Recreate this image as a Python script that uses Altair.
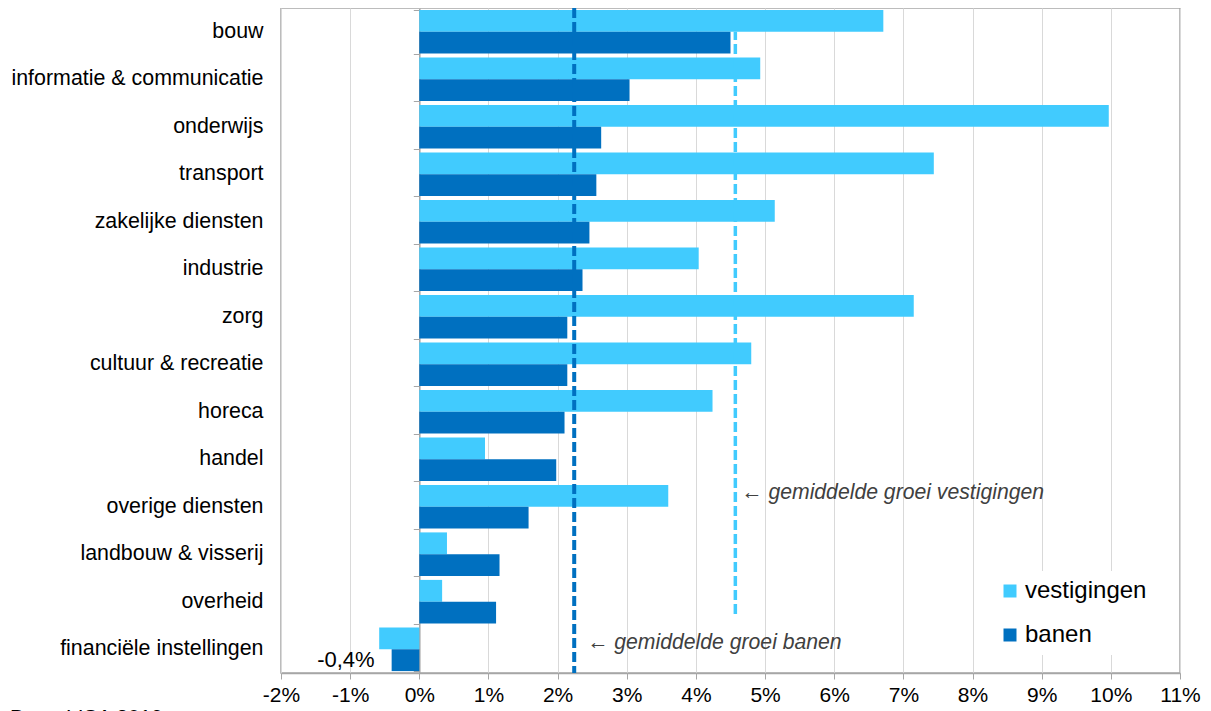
import altair as alt
import pandas as pd

categories = ["bouw", "informatie & communicatie", "onderwijs", "transport",
              "zakelijke diensten", "industrie", "zorg", "cultuur & recreatie",
              "horeca", "handel", "overige diensten", "landbouw & visserij",
              "overheid", "financiële instellingen"]
vestigingen = [6.71, 4.93, 9.97, 7.44, 5.14, 4.04, 7.15, 4.80, 4.24, 0.95, 3.60, 0.40, 0.33, -0.58]
banen = [4.50, 3.04, 2.63, 2.56, 2.46, 2.36, 2.14, 2.14, 2.10, 1.98, 1.58, 1.16, 1.11, -0.40]
series = ["vestigingen", "banen"]
colors = ["#41CBFE", "#0070C0"]
avg_values = [4.57, 2.24]
avg_labels = ["← gemiddelde groei vestigingen", "← gemiddelde groei banen"]
avg_label_cats = ["overige diensten", "financiële instellingen"]
tick_values = list(range(-2, 12))
x_domain = [-2, 11]
source_text = "Bron: LISA 2019"

FONT = "Liberation Sans"
W, H = 899, 665
zero_offset = W * (0 - x_domain[0]) / (x_domain[1] - x_domain[0])

df = pd.DataFrame({
    "categorie": categories * 2,
    "reeks": ["vestigingen"] * len(categories) + ["banen"] * len(categories),
    "groei": vestigingen + banen,
})
lbl_df = df[(df["categorie"] == "financiële instellingen") & (df["reeks"] == "banen")].copy()
lbl_df["tekst"] = lbl_df["groei"].map(lambda v: f"{v:.1f}".replace(".", ",") + "%")


def ysc():
    return alt.Scale(domain=categories, paddingInner=0.08, paddingOuter=0.04)


def yosc():
    return alt.Scale(domain=series, paddingInner=0, paddingOuter=0)


xsc = alt.Scale(domain=x_domain, nice=False, zero=False)

bars = alt.Chart(df).mark_bar().encode(
    y=alt.Y("categorie:N", scale=ysc(), title=None,
            axis=alt.Axis(orient="left", ticks=False, domain=False, labelFontSize=21.4,
                          labelFont=FONT, labelColor="#000000", labelPadding=18,
                          labelLimit=400)),
    yOffset=alt.YOffset("reeks:N", scale=yosc()),
    x=alt.X("groei:Q", scale=xsc, title=None,
            axis=alt.Axis(values=tick_values, labelExpr="datum.value + '%'",
                          labelFlush=False, labelOverlap=False,
                          grid=True, gridColor="#D9D9D9", gridWidth=1,
                          tickColor="#A6A6A6", tickSize=6, domainColor="#A6A6A6",
                          domainWidth=1.5, labelFontSize=21, labelFont=FONT,
                          labelColor="#000000", labelPadding=5)),
    color=alt.Color("reeks:N",
                    scale=alt.Scale(domain=series, range=colors),
                    legend=alt.Legend(title=None, orient="none", legendX=709, legendY=563,
                                      symbolType="square", symbolSize=169,
                                      symbolStrokeWidth=0, labelFontSize=24,
                                      labelFont=FONT, labelColor="#000000",
                                      rowPadding=20, labelOffset=3, padding=8,
                                      fillColor="white")),
)

vest_avg_df = pd.DataFrame({"reeks": [series[0]], "waarde": [avg_values[0]],
                            "start": [categories[0]], "eind": ["overheid"]})
banen_avg_df = pd.DataFrame({"reeks": [series[1]], "waarde": [avg_values[1]]})

vest_rule = alt.Chart(vest_avg_df).mark_rule(
    color=colors[0], strokeWidth=3.5, strokeDash=[10, 4]).encode(
    x=alt.X("waarde:Q", scale=xsc),
    y=alt.Y("eind:N", scale=ysc(), bandPosition=0.78, axis=None),
    y2=alt.Y2("start:N"),
)
banen_rule = alt.Chart(banen_avg_df).mark_rule(
    color=colors[1], strokeWidth=4, strokeDash=[10, 4]).encode(
    x=alt.X("waarde:Q", scale=xsc),
)

ann_df = pd.DataFrame({"tekst": avg_labels, "waarde": avg_values,
                       "categorie": avg_label_cats, "reeks": ["vestigingen", "vestigingen"]})
ann_layers = []
for i, (dx, dy) in enumerate([(6, -3), (13, 5)]):
    ann_layers.append(
        alt.Chart(ann_df.iloc[[i]]).mark_text(
            align="left", baseline="middle", dx=dx, dy=dy, fontSize=21.2, font=FONT,
            fontStyle="italic", color="#404040").encode(
            x=alt.X("waarde:Q", scale=xsc),
            y=alt.Y("categorie:N", scale=ysc(), axis=None),
            yOffset=alt.YOffset("reeks:N", scale=yosc()),
            text="tekst:N",
        )
    )

value_label = alt.Chart(lbl_df).mark_text(
    align="right", baseline="middle", dx=-17, fontSize=22, font=FONT, color="#000000").encode(
    x=alt.X("groei:Q", scale=xsc),
    y=alt.Y("categorie:N", scale=ysc(), title=None,
            axis=alt.Axis(orient="left", offset=-zero_offset, labels=False, ticks=True,
                          tickSize=6, tickColor="#A6A6A6", tickBand="extent",
                          domain=True, domainColor="#A6A6A6", domainWidth=1.5,
                          grid=False)),
    yOffset=alt.YOffset("reeks:N", scale=yosc()),
    text="tekst:N",
)

chart = alt.layer(bars, vest_rule, banen_rule, *ann_layers, value_label).resolve_axis(
    y="independent"
).properties(
    width=W, height=H,
    autosize=alt.AutoSizeParams(type="none"),
    padding={"left": 273, "top": 0, "right": 22, "bottom": 60},
    title=alt.TitleParams(text=source_text, orient="bottom", anchor="start", frame="group",
                          dx=-271, offset=2, fontSize=21, fontWeight="normal",
                          font=FONT, color="#000000"),
).configure_view(stroke="#A6A6A6", strokeWidth=1.5)

chart.save("out.html", embed_options={"renderer": "svg", "actions": False})
